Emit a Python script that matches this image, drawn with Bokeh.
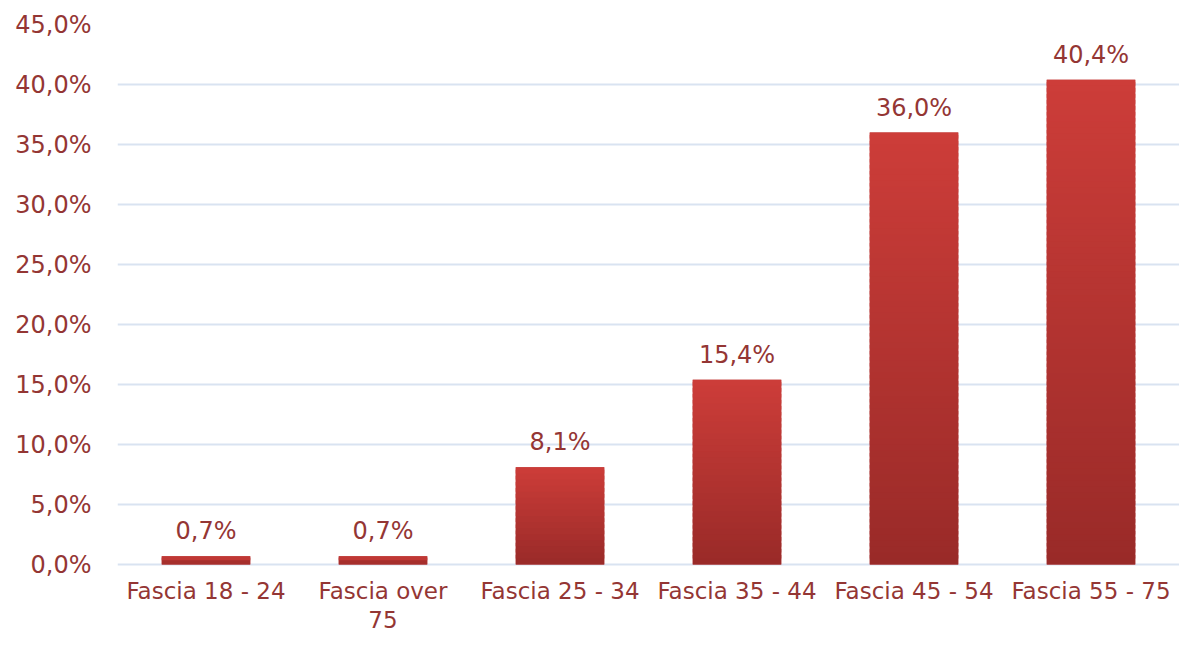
from bokeh.plotting import figure
from bokeh.models import Range1d, FixedTicker, ColumnDataSource, CustomJSTickFormatter
from bokeh.embed import file_html
from bokeh.resources import INLINE
from bokeh.core.properties import value

categories = ["Fascia 18 - 24", "Fascia over 75", "Fascia 25 - 34", "Fascia 35 - 44", "Fascia 45 - 54", "Fascia 55 - 75"]
display_labels = ["Fascia 18 - 24", "Fascia over\n75", "Fascia 25 - 34", "Fascia 35 - 44", "Fascia 45 - 54", "Fascia 55 - 75"]
values = [0.7, 0.7, 8.1, 15.4, 36.0, 40.4]
y_ticks = [0, 5, 10, 15, 20, 25, 30, 35, 40, 45]

FONT = "DejaVu Sans"
TXT = "#943634"
TOP = (0xCD, 0x3D, 0x39)
BOT = (0x99, 0x2A, 0x28)
MID = "#%02x%02x%02x" % tuple((a + b) // 2 for a, b in zip(TOP, BOT))

# extra room below zero (in data units) for the category labels inside the frame
Y_BELOW = 5.83

p = figure(width=1179, height=634, x_range=categories, y_range=Range1d(-Y_BELOW, 45),
           output_backend="svg", toolbar_location=None,
           min_border_left=117, min_border_right=0, min_border_top=24, min_border_bottom=0)
p.outline_line_color = None

# solid base bars
p.vbar(x=categories, bottom=0, top=values, width=0.5, fill_color=MID, line_color=None)

# vertical gradient: thin overlapping slices, drawn bottom-up
xs, bots, tops, cols = [], [], [], []
for c, v in zip(categories, values):
    n = max(2, int(round(v * 2)))
    for i in range(n):
        t = (i + 0.5) / n
        rgb = tuple(round(b + (a - b) * t) for a, b in zip(TOP, BOT))
        xs.append(c)
        bots.append(v * i / n)
        tops.append(min(v, v * (i + 1.6) / n))
        cols.append("#%02x%02x%02x" % rgb)
p.vbar(x=xs, bottom=bots, top=tops, width=0.5, fill_color=cols, line_color=None)

lab = ColumnDataSource(dict(x=categories, y=values, t=[("%.1f%%" % v).replace(".", ",") for v in values]))
p.text(x="x", y="y", text="t", source=lab, text_align="center", text_baseline="bottom",
       y_offset=-11, text_font=value(FONT), text_font_size="24px", text_color=TXT)

cat_src = ColumnDataSource(dict(x=categories, y=[0] * len(categories), t=display_labels))
p.text(x="x", y="y", text="t", source=cat_src, text_align="center", text_baseline="top",
       y_offset=13, text_font=value(FONT), text_font_size="23px", text_color=TXT,
       text_line_height=1.12)

p.yaxis.ticker = FixedTicker(ticks=y_ticks)
p.yaxis.formatter = CustomJSTickFormatter(code="return tick.toFixed(1).replace('.', ',') + '%';")
p.yaxis.axis_line_color = None
p.yaxis.major_tick_line_color = None
p.yaxis.minor_tick_line_color = None
p.yaxis.major_label_text_font = FONT
p.yaxis.major_label_text_font_size = "24px"
p.yaxis.major_label_text_color = TXT
p.yaxis.major_label_standoff = 20

p.xaxis.visible = False

p.xgrid.grid_line_color = None
p.ygrid.grid_line_color = "#D9E3F1"
p.ygrid.grid_line_width = 2
p.ygrid.ticker = FixedTicker(ticks=y_ticks)

open("out.html", "w").write(file_html(p, INLINE))
